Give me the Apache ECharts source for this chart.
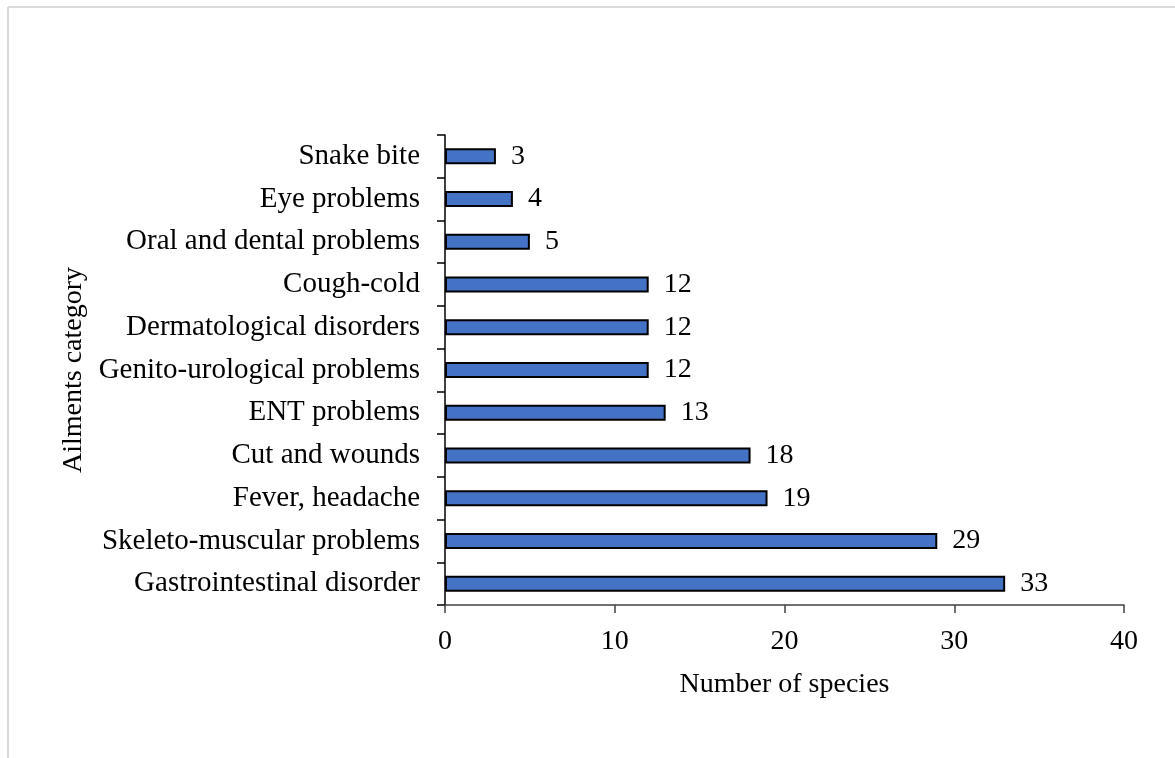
<!DOCTYPE html>
<html>
<head>
<meta charset="utf-8">
<script src="https://cdn.jsdelivr.net/npm/echarts@6/dist/echarts.min.js"></script>
<style>
  html, body { margin: 0; padding: 0; background: #fff; }
  #chart { width: 1175px; height: 758px; }
</style>
</head>
<body>
<div id="chart"></div>
<script>
// Ailment categories, listed from bottom to top of the chart
const categories = [
  'Gastrointestinal disorder',
  'Skeleto-muscular problems',
  'Fever, headache',
  'Cut and wounds',
  'ENT problems',
  'Genito-urological problems',
  'Dermatological disorders',
  'Cough-cold',
  'Oral and dental problems',
  'Eye problems',
  'Snake bite'
];
// Number of species used for each ailment category
const speciesCounts = [33, 29, 19, 18, 13, 12, 12, 12, 5, 4, 3];

const FONT = '"Liberation Serif", "Times New Roman", serif';

const chart = echarts.init(document.getElementById('chart'), null, { renderer: 'canvas' });
chart.setOption({
  backgroundColor: '#ffffff',
  animation: false,
  graphic: [
    { type: 'line', shape: { x1: 8, y1: 7, x2: 1175, y2: 7 }, style: { stroke: '#d9d9d9', lineWidth: 2 } },
    { type: 'line', shape: { x1: 8, y1: 7, x2: 8, y2: 758 }, style: { stroke: '#d9d9d9', lineWidth: 2 } }
  ],
  grid: { left: 445, right: 51, top: 135, bottom: 153, containLabel: false },
  xAxis: {
    type: 'value',
    min: 0, max: 40, interval: 10,
    name: 'Number of species',
    nameLocation: 'middle',
    nameGap: 66,
    nameTextStyle: { fontFamily: FONT, fontSize: 28, color: '#000' },
    axisLine: { show: true, lineStyle: { color: '#404040', width: 1.5 } },
    axisTick: { show: true, length: 8, lineStyle: { color: '#404040', width: 1.5 } },
    axisLabel: { margin: 23, fontFamily: FONT, fontSize: 28, color: '#000' },
    splitLine: { show: false }
  },
  yAxis: {
    type: 'category',
    data: categories,
    name: 'Ailments category',
    nameLocation: 'middle',
    nameGap: 357,
    nameTextStyle: { fontFamily: FONT, fontSize: 28, color: '#000' },
    axisLine: { show: true, lineStyle: { color: '#000', width: 1.5 } },
    axisTick: { show: true, length: 8, alignWithLabel: false, lineStyle: { color: '#000', width: 1.5 } },
    axisLabel: { margin: 25, fontFamily: FONT, fontSize: 29, color: '#000' },
    splitLine: { show: false }
  },
  series: [{
    type: 'bar',
    data: speciesCounts,
    barWidth: 16,
    itemStyle: { color: '#4472C4', borderColor: '#000', borderWidth: 2 },
    label: {
      show: true,
      position: 'right',
      distance: 15,
      fontFamily: FONT,
      fontSize: 28,
      color: '#000'
    }
  }]
});
</script>
</body>
</html>
